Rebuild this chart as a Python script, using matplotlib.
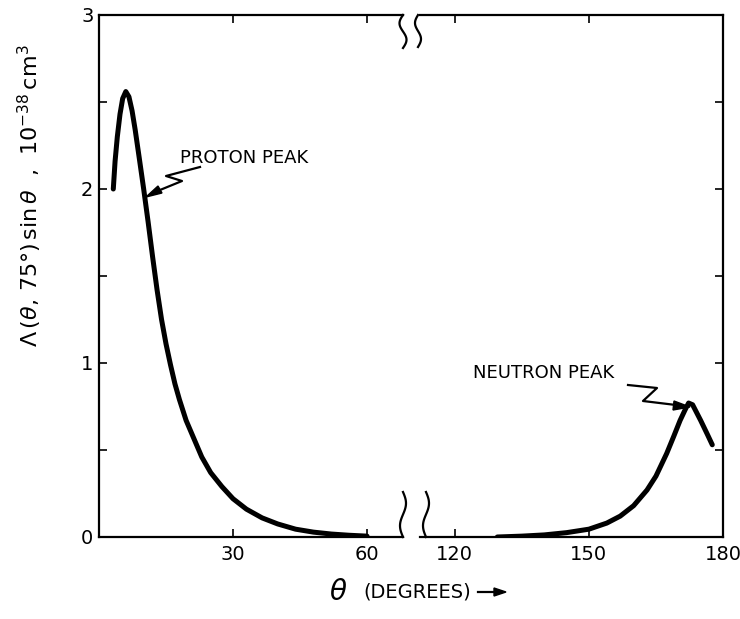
import matplotlib.pyplot as plt
import numpy as np
from matplotlib.lines import Line2D

# proton peak branch (theta in degrees, Lambda*sin(theta) in 1e-38 cm^3)
theta_p = [3.2, 3.6, 4.1, 4.7, 5.3, 6.0, 6.7, 7.4, 8.1, 9.0, 10.0, 11.0, 12.0,
           13.0, 14.0, 15.0, 16.0, 17.0, 18.0, 19.5, 21.0, 23.0, 25.0, 27.5,
           30.0, 33.0, 36.5, 40.0, 44.0, 48.0, 52.0, 56.0, 60.0]
lam_p = [2.00, 2.16, 2.30, 2.43, 2.52, 2.56, 2.53, 2.45, 2.34, 2.18, 2.00, 1.81,
         1.61, 1.42, 1.25, 1.11, 0.99, 0.88, 0.79, 0.67, 0.58, 0.46, 0.37, 0.29,
         0.22, 0.16, 0.11, 0.075, 0.045, 0.028, 0.017, 0.010, 0.005]

# neutron peak branch
theta_n = [129.5, 135.0, 140.0, 145.0, 150.0, 154.0, 157.0, 160.0, 163.0, 165.0,
           167.4, 169.0, 170.4, 171.5, 172.3, 173.2, 175.0, 176.5, 177.6]
lam_n = [0.0, 0.005, 0.012, 0.025, 0.045, 0.08, 0.12, 0.18, 0.27, 0.35, 0.48,
         0.58, 0.67, 0.73, 0.77, 0.76, 0.67, 0.59, 0.53]

xticks_left = [30, 60]
xticks_right = [120, 150, 180]
yticks = [0, 1, 2, 3]

W, H = 740, 619
plt.rcParams['font.family'] = 'DejaVu Sans'
fig = plt.figure(figsize=(W / 100, H / 100), dpi=100)


def px(x, y):
    # pixel position (from top-left) -> figure fraction
    return x / W, 1 - y / H


ax1 = fig.add_axes([99 / W, 1 - 537 / H, (403 - 99) / W, (537 - 15) / H])
ax2 = fig.add_axes([420 / W, 1 - 537 / H, (723 - 420) / W, (537 - 15) / H])

ax1.set_xlim(0, 68.05)
ax2.set_xlim(112.2, 180)
yt = np.arange(0, 3.01, 0.5)
for ax in (ax1, ax2):
    ax.set_ylim(0, 3)
    ax.set_yticks(yt)
    for s in ax.spines.values():
        s.set_linewidth(1.6)
    ax.tick_params(direction='in', length=6, width=1.2, labelsize=14,
                   top=True, bottom=True, left=True, right=True, pad=6)

ax1.spines['right'].set_visible(False)
ax2.spines['left'].set_visible(False)
ax1.tick_params(right=False)
ax2.tick_params(left=False, labelleft=False)
ax1.set_xticks(xticks_left)
ax2.set_xticks(xticks_right)
ax1.set_yticklabels([str(int(v)) if v in yticks else '' for v in yt])
ax1.tick_params(axis='y', pad=4)

ax1.plot(theta_p, lam_p, color='black', lw=3.6, solid_capstyle='round',
         solid_joinstyle='round')
ax2.plot(theta_n, lam_n, color='black', lw=3.6, solid_capstyle='round',
         solid_joinstyle='round')


def fig_line(points, lw=1.6):
    xs, ys = zip(*[px(a, b) for a, b in points])
    fig.add_artist(Line2D(xs, ys, color='black', lw=lw, transform=fig.transFigure))


# wavy break marks where the two panels meet
def squiggle(x0, y0, length, amp, sign):
    t = np.linspace(0, 1, 40)
    xs = x0 + amp * np.sin(2 * np.pi * t) * sign
    ys = y0 + length * t
    fig_line(list(zip(xs, ys)))


squiggle(403, 15, 33, 3.5, -1)
squiggle(418, 15, 32, 3.0, -1)
squiggle(403, 537, -45, 3.0, -1)
squiggle(426, 537, -45, 3.0, -1)

# peak annotations with zigzag leaders
fig_line([(200, 167), (166, 176), (182, 181), (160, 190)])
fig.add_artist(plt.Polygon([px(146, 197), px(158, 186), px(162, 193)],
                           closed=True, color='black', transform=fig.transFigure))

fig_line([(628, 385), (657, 388), (643, 401), (676, 405)])
fig.add_artist(plt.Polygon([px(690, 407), px(674, 401), px(673, 410)],
                           closed=True, color='black', transform=fig.transFigure))

fig.text(*px(180, 163), 'PROTON PEAK', fontsize=13, va='baseline')
fig.text(*px(473, 378), 'NEUTRON PEAK', fontsize=13, va='baseline')

fig.text(*px(30, 196), r'$\Lambda\,(\theta,\,75°)\,\sin\theta$  ,  $10^{-38}\,\mathrm{cm}^3$',
         rotation=90, ha='center', va='center', fontsize=16)
fig.text(*px(338, 592), r'$\theta$', fontsize=20, ha='center', va='center')
fig.text(*px(363, 592), '(DEGREES)', fontsize=14, ha='left', va='center')
fig_line([(478, 592), (498, 592)])
fig.add_artist(plt.Polygon([px(494, 588), px(506, 592), px(494, 596)],
                           closed=True, color='black', transform=fig.transFigure))

fig.savefig('out.png', dpi=100)
